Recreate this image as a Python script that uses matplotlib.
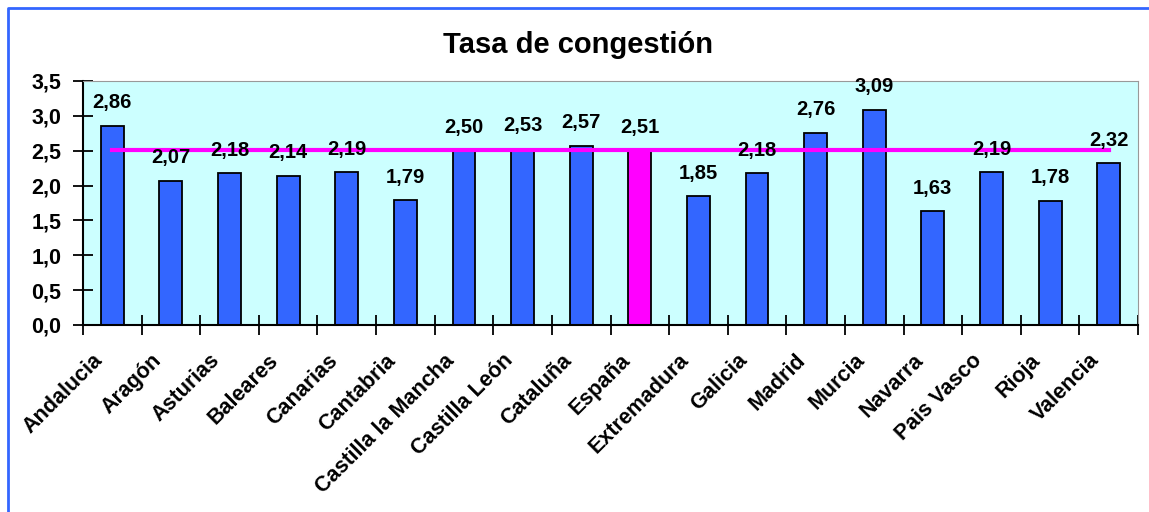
import matplotlib
matplotlib.use("Agg")
import matplotlib.pyplot as plt
from matplotlib.lines import Line2D
from matplotlib.transforms import ScaledTranslation

# Datos
comunidades = ["Andalucia", "Aragón", "Asturias", "Baleares", "Canarias", "Cantabria",
               "Castilla la Mancha", "Castilla León", "Cataluña", "España", "Extremadura",
               "Galicia", "Madrid", "Murcia", "Navarra", "Pais Vasco", "Rioja", "Valencia"]
tasa = [2.86, 2.07, 2.18, 2.14, 2.19, 1.79, 2.50, 2.53, 2.57, 2.51, 1.85,
        2.18, 2.76, 3.09, 1.63, 2.19, 1.78, 2.32]
media_espana = 2.51
yticks = [0.0, 0.5, 1.0, 1.5, 2.0, 2.5, 3.0, 3.5]

plt.rcParams["font.family"] = ["Liberation Sans", "DejaVu Sans"]
plt.rcParams["font.weight"] = "bold"

fig = plt.figure(figsize=(11.49, 5.12), dpi=100)
ax = fig.add_axes([83 / 1149, 1 - 325 / 512, (1138 - 83) / 1149, (325 - 81) / 512])

x = list(range(len(comunidades)))
colores = ["#FF00FF" if c == "España" else "#3366FF" for c in comunidades]
ax.bar(x, tasa, width=0.39, color=colores, edgecolor="black", linewidth=1.3, zorder=2)
ax.plot([x[0], x[-1]], [media_espana, media_espana], color="#FF00FF", linewidth=3, zorder=3)

for xi, v in zip(x, tasa):
    ax.annotate(f"{v:.2f}".replace(".", ","), (xi, v), xytext=(0, 16.5), textcoords="offset points",
                ha="center", va="center", fontsize=14.5, fontweight="bold", zorder=4)

ax.set_facecolor("#CCFFFF")
ax.set_xlim(-0.5, len(comunidades) - 0.5)
ax.set_ylim(0, 3.5)
ax.set_yticks(yticks)
ax.set_yticklabels([f"{t:.1f}".replace(".", ",") for t in yticks], fontsize=15.5, fontweight="bold")
ax.set_xticks([i - 0.5 for i in range(len(comunidades) + 1)])
ax.set_xticklabels([])
ax.set_xticks(x, minor=True)
ax.set_xticklabels(comunidades, minor=True, rotation=45, ha="right", rotation_mode="anchor",
                   fontsize=15.5, fontweight="bold")
ax.tick_params(axis="x", which="minor", length=0, pad=18)
ax.tick_params(axis="x", which="major", direction="inout", length=14, width=1.3)
ax.tick_params(axis="y", direction="inout", length=15, width=1.3, pad=8)
desplaza = ScaledTranslation(-20 / 100, 0, fig.dpi_scale_trans)
for etiqueta in ax.get_xticklabels(minor=True):
    etiqueta.set_transform(etiqueta.get_transform() + desplaza)

for lado in ["top", "right"]:
    ax.spines[lado].set_color("#999999")
for lado in ["left", "bottom"]:
    ax.spines[lado].set_color("black")
    ax.spines[lado].set_linewidth(1.5)

fig.text(578 / 1149, 1 - 53 / 512, "Tasa de congestión", ha="center", va="baseline",
         fontsize=21, fontweight="bold")

# borde azul exterior
fig.add_artist(Line2D([7.5 / 1149, 7.5 / 1149, 1.01], [-0.01, 1 - 7.5 / 512, 1 - 7.5 / 512],
                      transform=fig.transFigure, color="#3366FF", linewidth=2))

fig.savefig("out.png", dpi=100)
